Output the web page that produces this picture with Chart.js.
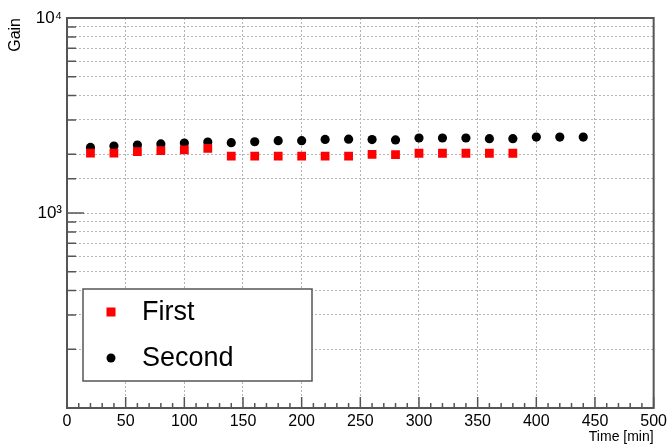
<!DOCTYPE html>
<html lang="en">
  <head>
    <meta charset="UTF-8" />
    <title>Gain vs Time</title>
    <script src="https://cdn.jsdelivr.net/npm/chart.js@4.4.0/dist/chart.umd.min.js"></script>
    <style>
      html, body {
        margin: 0;
        padding: 0;
        background: #fff;
      }
      .chart-container {
        position: relative;
        width: 671px;
        height: 446px;
      }
    </style>
  </head>
  <body>
    <div class="chart-container">
      <canvas id="gainChart" width="671" height="446"></canvas>
    </div>

    <script>
      // values
      const firstTimes = [20, 40, 60, 80, 100, 120, 140, 160, 180, 200, 220, 240, 260, 280, 300, 320, 340, 360, 380];
      const firstGain = [2030, 2030, 2065, 2090, 2110, 2145, 1960, 1960, 1960, 1955, 1960, 1960, 2000, 1990, 2025, 2025, 2025, 2025, 2025];
      const secondTimes = [20, 40, 60, 80, 100, 120, 140, 160, 180, 200, 220, 240, 260, 280, 300, 320, 340, 360, 380, 400, 420, 440];
      const secondGain = [2170, 2205, 2230, 2260, 2285, 2310, 2295, 2320, 2350, 2350, 2385, 2390, 2380, 2370, 2425, 2425, 2425, 2405, 2405, 2450, 2450, 2450];

      const seriesLabels = ["First", "Second"];
      const yLabelValues = [1000, 10000];
      const yLabelTexts = ["10\u00b3", "10\u2074"];

      const FONT = "'Liberation Sans', Arial, Helvetica, sans-serif";
      const AXIS_COLOR = "#555";

      // ROOT style: ticks pointing inward + full frame
      const frameAndTicks = {
        id: "frameAndTicks",
        beforeDatasetsDraw(chart) {
          const { ctx, chartArea: a, scales } = chart;
          const x = scales.x, y = scales.y;
          ctx.save();
          ctx.strokeStyle = AXIS_COLOR;
          ctx.lineWidth = 1.5;
          ctx.beginPath();
          for (let v = x.min; v <= x.max; v += 10) {
            const px = x.getPixelForValue(v);
            const len = v % 50 === 0 ? 11 : 5;
            ctx.moveTo(px, a.bottom);
            ctx.lineTo(px, a.bottom - len);
          }
          y.ticks.forEach((t) => {
            const py = y.getPixelForValue(t.value);
            const major = yLabelValues.some((m) => Math.abs(m - t.value) / m < 1e-6);
            ctx.moveTo(a.left, py);
            ctx.lineTo(a.left + (major ? 17 : 9), py);
          });
          ctx.stroke();
          ctx.lineWidth = 2;
          ctx.strokeRect(a.left, a.top, a.right - a.left, a.bottom - a.top);
          ctx.restore();
        },
      };

      // boxed legend in the lower left corner
      const boxLegend = {
        id: "boxLegend",
        afterDraw(chart) {
          const { ctx, chartArea: a } = chart;
          const left = a.left + 16, top = 289, w = 229, h = 92;
          ctx.save();
          ctx.fillStyle = "#fff";
          ctx.fillRect(left, top, w, h);
          ctx.strokeStyle = AXIS_COLOR;
          ctx.lineWidth = 1.5;
          ctx.strokeRect(left, top, w, h);
          ctx.font = "27px " + FONT;
          ctx.textBaseline = "middle";
          chart.data.datasets.forEach((ds, i) => {
            const cy = top + 23 + i * 46;
            const mx = left + 28;
            ctx.fillStyle = ds.backgroundColor;
            if (ds.pointStyle === "rect") {
              ctx.fillRect(mx - 4.5, cy - 4.5, 9, 9);
            } else {
              ctx.beginPath();
              ctx.arc(mx, cy, 4.5, 0, Math.PI * 2);
              ctx.fill();
            }
            ctx.fillStyle = "#000";
            ctx.fillText(ds.label, left + 59, cy + 1);
          });
          ctx.restore();
        },
      };

      const gridStyle = { color: "#b4b4b4", lineWidth: 1, drawTicks: false };

      new Chart(document.getElementById("gainChart"), {
        type: "scatter",
        data: {
          datasets: [
            {
              label: seriesLabels[0],
              data: firstTimes.map((t, i) => ({ x: t, y: firstGain[i] })),
              pointStyle: "rect",
              pointRadius: 6.2,
              backgroundColor: "#ff0000",
              borderWidth: 0,
            },
            {
              label: seriesLabels[1],
              data: secondTimes.map((t, i) => ({ x: t, y: secondGain[i] })),
              pointStyle: "circle",
              pointRadius: 4.6,
              backgroundColor: "#000000",
              borderWidth: 0,
            },
          ],
        },
        options: {
          responsive: false,
          devicePixelRatio: 1,
          animation: false,
          layout: { padding: { top: 18, right: 16, left: 0, bottom: 0 } },
          plugins: {
            legend: { display: false },
            tooltip: { enabled: false },
          },
          scales: {
            x: {
              type: "linear",
              min: 0,
              max: 500,
              afterFit(s) {
                s.height = 38;
              },
              ticks: {
                stepSize: 50,
                autoSkip: false,
                maxRotation: 0,
                padding: 4,
                color: "#000",
                font: { family: FONT, size: 16 },
              },
              grid: gridStyle,
              border: { display: false, dash: [2, 2] },
              title: {
                display: true,
                text: "Time [min]",
                align: "end",
                color: "#000",
                font: { family: FONT, size: 14 },
                padding: { top: 0, bottom: 0 },
              },
            },
            y: {
              type: "logarithmic",
              min: 100,
              max: 10000,
              afterFit(s) {
                s.width = 67;
              },
              ticks: {
                autoSkip: false,
                padding: 5,
                color: "#000",
                font: { family: FONT, size: 17 },
                callback: (v) => {
                  const i = yLabelValues.findIndex((m) => Math.abs(m - v) / m < 1e-6);
                  return i >= 0 ? yLabelTexts[i] : "";
                },
              },
              grid: gridStyle,
              border: { display: false, dash: [2, 2] },
              title: {
                display: true,
                text: "Gain",
                align: "end",
                color: "#000",
                font: { family: FONT, size: 16 },
                padding: { top: 6, bottom: 0 },
              },
            },
          },
        },
        plugins: [frameAndTicks, boxLegend],
      });
    </script>
  </body>
</html>
